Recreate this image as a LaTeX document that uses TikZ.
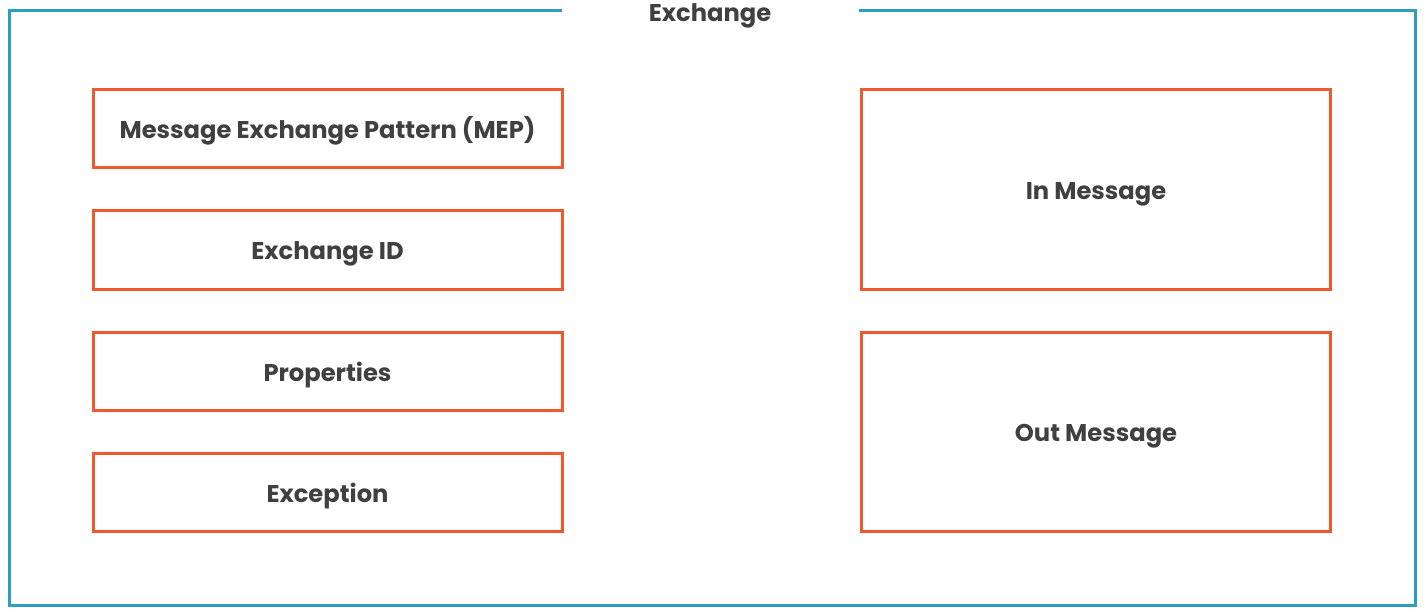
\documentclass[tikz,border=0pt]{standalone}
\usepackage{fontspec}
\setmainfont{Poppins}
\definecolor{frameblue}{HTML}{2B9FC2}
\definecolor{boxorange}{HTML}{EE5A2B}
\definecolor{txtgray}{HTML}{404040}
\begin{document}
\begin{tikzpicture}[x=1pt,y=-1pt,
  field/.style={draw=boxorange,line width=3pt,fill=white,text=txtgray,
    font=\fontsize{24.2}{29}\selectfont\bfseries,inner sep=0pt,
    text height=20pt,text depth=0pt,minimum width=469pt},
  short/.style={field,minimum height=78pt},
  tall/.style={field,minimum height=199pt},
  lbl/.style={anchor=base,text=txtgray,font=\fontsize{24.2}{29}\selectfont\bfseries,inner sep=0pt},
  frame/.style={draw=frameblue,line width=3pt}]
\useasboundingbox (0,0) rectangle (1426,612);
\coordinate (gl) at (562,11);
\coordinate (gr) at (859,11);
\draw[frame] (gl) -- (9,11) -- (9,605) -- (1415,605) -- (1415,11) -- (gr);
\node[lbl] (title) at (710,22) {Exchange};
% left column
\node[short] (mep) at (327.5,129) {Message Exchange Pattern (MEP)};
\node[short] (eid) at (327.5,250) {Exchange ID};
\node[short] (props) at (327.5,371) {Properties};
\node[short] (exc) at (327.5,492) {Exception};
% right column
\node[tall] (inm) at (1096,189.5) {In Message};
\node[tall] (outm) at (1096,431.5) {Out Message};
\end{tikzpicture}
\end{document}
